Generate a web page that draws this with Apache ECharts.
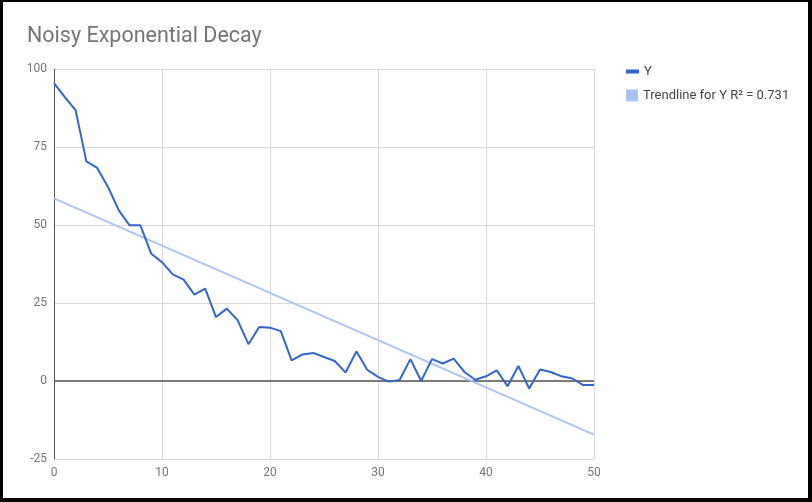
<!DOCTYPE html>
<html>
<head>
<meta charset="utf-8">
<script src="https://cdn.jsdelivr.net/npm/echarts@6/dist/echarts.min.js"></script>
<style>
  html, body { margin: 0; padding: 0; background: #fff; }
  #chart { position: absolute; left: 0; top: 0; width: 812px; height: 502px; }
  #frame { position: absolute; left: 0; top: 0; width: 812px; height: 502px; box-sizing: border-box;
           border-style: solid; border-color: #000; border-width: 2px 4px 4px 3px; pointer-events: none; }
</style>
</head>
<body>
<div id="chart"></div>
<div id="frame"></div>
<script>
const xValues = [0,1,2,3,4,5,6,7,8,9,10,11,12,13,14,15,16,17,18,19,20,21,22,23,24,25,26,27,28,29,30,31,32,33,34,35,36,37,38,39,40,41,42,43,44,45,46,47,48,49,50];
const yValues = [95.5,91,86.8,70.4,68.3,62.2,54.7,49.9,49.9,40.8,38.1,34.2,32.5,27.7,29.6,20.5,23.2,19.5,11.8,17.3,17.1,16.0,6.6,8.5,9.0,7.7,6.4,2.7,9.5,3.6,1.3,-0.2,0.3,7.0,0.0,7.0,5.6,7.2,2.9,0.4,1.5,3.4,-1.7,4.8,-2.4,3.7,2.9,1.5,0.8,-1.3,-1.3];
const xTicks = [0,10,20,30,40,50];
const yTicks = [-25,0,25,50,75,100];
const seriesName = 'Y';
const trendName = 'Trendline for Y R\u00b2 = 0.731';
const titleText = 'Noisy Exponential Decay';

// least-squares trendline computed from the series
const n = xValues.length;
let sx = 0, sy = 0, sxx = 0, sxy = 0;
for (let i = 0; i < n; i++) { sx += xValues[i]; sy += yValues[i]; sxx += xValues[i]*xValues[i]; sxy += xValues[i]*yValues[i]; }
const slope = (n*sxy - sx*sy) / (n*sxx - sx*sx);
const intercept = (sy - slope*sx) / n;
const xMin = xValues[0], xMax = xValues[n-1];
const trendData = [[xMin, intercept + slope*xMin], [xMax, intercept + slope*xMax]];
const lineData = xValues.map((x, i) => [x, yValues[i]]);

const chart = echarts.init(document.getElementById('chart'), null, { renderer: 'canvas' });
const FONT = 'Roboto, Arial, sans-serif';
chart.setOption({
  animation: false,
  textStyle: { fontFamily: FONT },
  title: { text: titleText, left: 22, top: 21, textStyle: { fontSize: 21.5, fontWeight: 'normal', color: '#757575', fontFamily: FONT } },
  legend: [
    { data: [seriesName], orient: 'vertical', left: 621, top: 60, itemWidth: 13, itemHeight: 4, icon: 'rect', itemGap: 10,
      textStyle: { fontSize: 13, color: '#444', fontFamily: FONT } },
    { data: [trendName], orient: 'vertical', left: 621, top: 84, itemWidth: 12, itemHeight: 12, icon: 'rect',
      textStyle: { fontSize: 13, color: '#444', fontFamily: FONT } }
  ],
  grid: { left: 54, top: 69, width: 540, height: 390, containLabel: false },
  xAxis: {
    type: 'value', min: 0, max: 50, interval: 10,
    axisLine: { show: false }, axisTick: { show: false },
    axisLabel: { color: '#757575', fontSize: 12, margin: 8, fontFamily: FONT },
    splitLine: { show: true, lineStyle: { color: '#d9d9d9', width: 1 } }
  },
  yAxis: {
    type: 'value', min: -25, max: 100, interval: 25,
    axisLine: { show: true, onZero: false, lineStyle: { color: '#555', width: 1 } }, axisTick: { show: false },
    axisLabel: { color: '#757575', fontSize: 12, margin: 7, fontFamily: FONT },
    splitLine: { show: true, lineStyle: { color: '#d9d9d9', width: 1 } }
  },
  series: [
    { name: trendName, type: 'line', data: trendData, showSymbol: false, symbol: 'none',
      lineStyle: { color: '#a9c4f0', width: 2 }, itemStyle: { color: '#a9c4f0' }, z: 2 },
    { name: seriesName, type: 'line', data: lineData, showSymbol: false, symbol: 'none',
      lineStyle: { color: '#3366cc', width: 2 }, itemStyle: { color: '#3366cc' }, z: 3,
      markLine: { silent: true, symbol: 'none', label: { show: false },
        lineStyle: { color: '#555', width: 1.5, type: 'solid' }, data: [{ yAxis: 0 }], z: 1 } }
  ]
});
</script>
</body>
</html>
